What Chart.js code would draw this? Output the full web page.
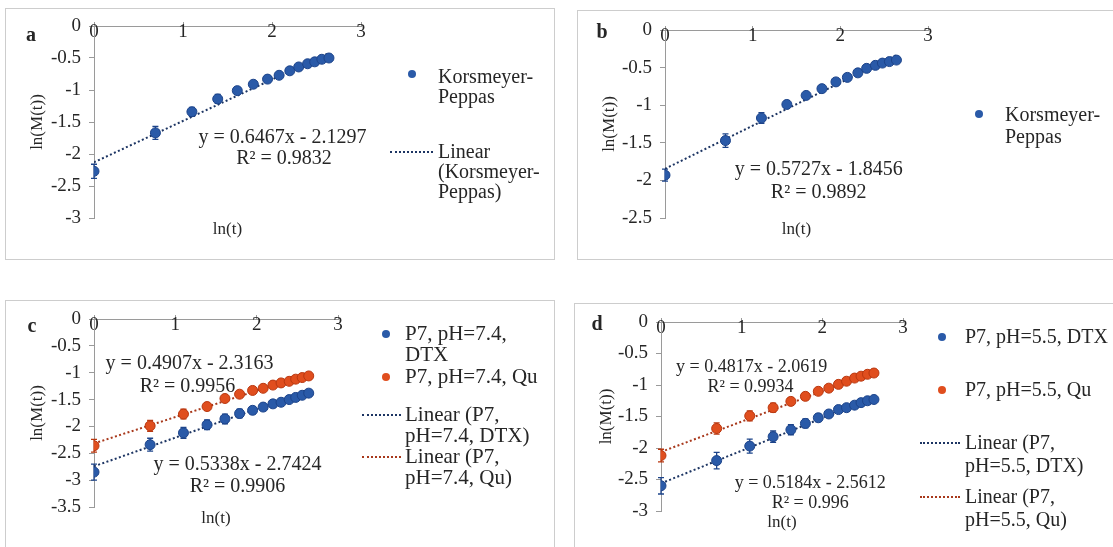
<!DOCTYPE html>
<html>
<head>
<meta charset="utf-8">
<script src="https://cdn.jsdelivr.net/npm/chart.js@4.4.0/dist/chart.umd.min.js"></script>
<style>
body{margin:0;width:1113px;height:547px;overflow:hidden;background:#fff;position:relative;
  font-family:"Liberation Serif","Times New Roman",serif;color:#262626}
.panel{position:absolute;border:1px solid #cdcdcd;box-sizing:border-box;overflow:hidden}
.panel canvas{position:absolute;left:0;top:0}
.lg{position:absolute;white-space:nowrap}
.dot{position:absolute;width:8px;height:8px;border-radius:50%}
.dash{position:absolute;height:0;border-top:2px dotted}
</style>
</head>
<body>
<div class="panel" style="left:5px;top:8px;width:550px;height:252px"><canvas id="ca" width="548" height="250"></canvas></div>
<div class="panel" style="left:577px;top:10px;width:545px;height:250px"><canvas id="cb" width="543" height="248"></canvas></div>
<div class="panel" style="left:5px;top:300px;width:550px;height:260px"><canvas id="cc" width="548" height="258"></canvas></div>
<div class="panel" style="left:574px;top:303px;width:545px;height:260px"><canvas id="cd" width="543" height="258"></canvas></div>
<div id="legends"></div>
<script>
// ln(t) for the sampling times
var lnT = [0, 0.69, 1.10, 1.39, 1.61, 1.79, 1.95, 2.08, 2.20, 2.30, 2.40, 2.48, 2.56, 2.64];

// panel a
var aKP    = [-2.27, -1.67, -1.34, -1.14, -1.01, -0.91, -0.83, -0.77, -0.70, -0.64, -0.59, -0.56, -0.52, -0.50];
var aKPerr = [0.11, 0.10, 0.07, 0.07, 0.05, 0.04, 0.04, 0.03, 0.03, 0.03, 0.02, 0.02, 0.02, 0.02];
var aFit   = [0.6467, -2.1297, '0.9832'];

// panel b
var bKP    = [-1.93, -1.47, -1.17, -0.99, -0.87, -0.78, -0.69, -0.63, -0.57, -0.51, -0.47, -0.44, -0.42, -0.40];
var bKPerr = [0.08, 0.09, 0.07, 0.05, 0.04, 0.03, 0.03, 0.03, 0.02, 0.02, 0.02, 0.02, 0.02, 0.02];
var bFit   = [0.5727, -1.8456, '0.9892'];

// panel c (pH 7.4)
var cDTX    = [-2.85, -2.34, -2.12, -1.97, -1.86, -1.76, -1.70, -1.64, -1.58, -1.55, -1.50, -1.46, -1.42, -1.38];
var cDTXerr = [0.15, 0.12, 0.10, 0.09, 0.09, 0.08, 0.07, 0.05, 0.04, 0.04, 0.04, 0.03, 0.03, 0.03];
var cQu     = [-2.36, -1.99, -1.77, -1.63, -1.48, -1.40, -1.33, -1.29, -1.23, -1.19, -1.16, -1.12, -1.09, -1.06];
var cQuerr  = [0.12, 0.10, 0.09, 0.07, 0.06, 0.05, 0.05, 0.04, 0.04, 0.03, 0.03, 0.03, 0.03, 0.03];
var cDTXFit = [0.5338, -2.7424, '0.9906'];
var cQuFit  = [0.4907, -2.3163, '0.9956'];

// panel d (pH 5.5)
var dDTX    = [-2.60, -2.20, -1.97, -1.82, -1.71, -1.61, -1.52, -1.46, -1.39, -1.36, -1.32, -1.28, -1.25, -1.23];
var dDTXerr = [0.13, 0.13, 0.11, 0.09, 0.08, 0.07, 0.06, 0.05, 0.04, 0.04, 0.04, 0.03, 0.03, 0.03];
var dQu     = [-2.12, -1.69, -1.49, -1.36, -1.26, -1.18, -1.10, -1.05, -0.99, -0.94, -0.89, -0.86, -0.83, -0.81];
var dQuerr  = [0.10, 0.09, 0.08, 0.07, 0.06, 0.05, 0.04, 0.04, 0.03, 0.03, 0.03, 0.03, 0.03, 0.03];
var dDTXFit = [0.5184, -2.5612, '0.996'];
var dQuFit  = [0.4817, -2.0619, '0.9934'];

var xTicks = [0, 1, 2, 3];

var FONT = '"Liberation Serif", "Times New Roman", serif';
var TEXT = '#262626';
var AXIS = '#9a9a9a';
var BLUE = '#2a5aa8', BLUE_EDGE = '#1d448a', BLUE_TREND = '#1d3563';
var ORANGE = '#e04e1e', ORANGE_EDGE = '#b9370f', ORANGE_TREND = '#a8381b';

function pts(ys) {
    return lnT.map(function(x, i){ return {x: x, y: ys[i]}; });
}

function pointSet(label, ys, err, fill, edge) {
    return {
        label: label, data: pts(ys), errors: err, errorColor: edge,
        backgroundColor: fill, borderColor: edge, borderWidth: 1,
        pointRadius: 5, pointHoverRadius: 5, showLine: false
    };
}

function trendSet(label, fit, color) {
    var last = lnT[lnT.length - 1];
    return {
        label: label,
        data: [{x: 0, y: fit[1]}, {x: last, y: fit[0] * last + fit[1]}],
        borderColor: color, borderWidth: 2, borderDash: [2, 2.4],
        pointRadius: 0, showLine: true, fill: false
    };
}

function eqText(fit) {
    return 'y = ' + fit[0] + 'x - ' + Math.abs(fit[1]);
}

// extra drawing: error bars, trend equations, x title and panel letter
function panelPlugin(spec) {
    return {
        id: 'panelDeco',
        beforeDatasetsDraw: function(chart) {
            var ctx = chart.ctx, ys = chart.scales.y;
            ctx.save();
            chart.data.datasets.forEach(function(ds, i) {
                if (!ds.errors) return;
                var meta = chart.getDatasetMeta(i);
                ctx.strokeStyle = ds.errorColor;
                ctx.lineWidth = 1.3;
                meta.data.forEach(function(el, j) {
                    var v = ds.data[j].y, e = ds.errors[j];
                    var y1 = ys.getPixelForValue(v - e), y2 = ys.getPixelForValue(v + e);
                    ctx.beginPath();
                    ctx.moveTo(el.x, y1); ctx.lineTo(el.x, y2);
                    ctx.moveTo(el.x - 3, y1); ctx.lineTo(el.x + 3, y1);
                    ctx.moveTo(el.x - 3, y2); ctx.lineTo(el.x + 3, y2);
                    ctx.stroke();
                });
            });
            ctx.restore();
        },
        afterDraw: function(chart) {
            var ctx = chart.ctx, xs = chart.scales.x, ys = chart.scales.y, area = chart.chartArea;
            ctx.save();
            ctx.fillStyle = TEXT;
            ctx.textAlign = 'center';
            ctx.textBaseline = 'middle';
            ctx.font = spec.eqSize + 'px ' + FONT;
            spec.notes.forEach(function(n) {
                ctx.fillText(n.text, xs.getPixelForValue(n.x), ys.getPixelForValue(n.y));
            });
            ctx.font = '17px ' + FONT;
            ctx.fillText('ln(t)', (area.left + area.right) / 2, area.bottom + 12);
            ctx.font = 'bold 20px ' + FONT;
            ctx.fillText(spec.letter, spec.letterPos[0], spec.letterPos[1]);
            ctx.restore();
        }
    };
}

function makePanel(spec) {
    var tickFont = {family: FONT, size: 19};
    new Chart(document.getElementById(spec.canvas), {
        type: 'scatter',
        data: {datasets: spec.datasets},
        options: {
            responsive: false,
            animation: false,
            events: [],
            devicePixelRatio: 1,
            layout: {autoPadding: false, padding: spec.padding},
            plugins: {legend: {display: false}, tooltip: {enabled: false}},
            scales: {
                x: {
                    type: 'linear', min: 0, max: 3, position: {y: 0},
                    afterBuildTicks: function(s){ s.ticks = xTicks.map(function(v){ return {value: v}; }); },
                    ticks: {padding: 0, maxRotation: 0, autoSkip: false, font: tickFont, color: TEXT,
                            callback: function(v){ return String(v); }},
                    grid: {drawOnChartArea: false, tickLength: -5, color: AXIS},
                    border: {color: AXIS},
                    afterFit: function(s){ s.height = 0; s.paddingLeft = 0; s.paddingRight = 0; }
                },
                y: {
                    type: 'linear', min: spec.yMin, max: 0, position: 'left',
                    ticks: {stepSize: 0.5, padding: 8, font: tickFont, color: TEXT,
                            callback: function(v){ return String(Math.round(v * 10) / 10); }},
                    grid: {drawOnChartArea: false, tickLength: 5, color: AXIS},
                    border: {color: AXIS},
                    title: {display: true, text: 'ln(M(t))', color: TEXT,
                            font: {family: FONT, size: 17}, padding: {top: 21, bottom: 0}},
                    afterFit: function(s){ s.width = spec.plotLeft; s.paddingTop = 0; s.paddingBottom = 0; }
                }
            }
        },
        plugins: [panelPlugin(spec)]
    });
}

makePanel({
    canvas: 'ca', yMin: -3, plotLeft: 88, padding: {left: 0, top: 17, right: 193, bottom: 41},
    letter: 'a', letterPos: [25, 27], eqSize: 20,
    datasets: [
        pointSet('Korsmeyer-Peppas', aKP, aKPerr, BLUE, BLUE_EDGE),
        trendSet('Linear (Korsmeyer-Peppas)', aFit, BLUE_TREND)
    ],
    notes: [
        {text: eqText(aFit), x: 2.118, y: -1.75},
        {text: 'R\u00b2 = ' + aFit[2], x: 2.135, y: -2.08}
    ]
});

makePanel({
    canvas: 'cb', yMin: -2.5, plotLeft: 87, padding: {left: 0, top: 19, right: 193, bottom: 41},
    letter: 'b', letterPos: [24, 22], eqSize: 20,
    datasets: [
        pointSet('Korsmeyer-Peppas', bKP, bKPerr, BLUE, BLUE_EDGE),
        trendSet('Linear (Korsmeyer-Peppas)', bFit, BLUE_TREND)
    ],
    notes: [
        {text: eqText(bFit), x: 1.753, y: -1.852},
        {text: 'R\u00b2 = ' + bFit[2], x: 1.753, y: -2.163}
    ]
});

makePanel({
    canvas: 'cc', yMin: -3.5, plotLeft: 88, padding: {left: 0, top: 18, right: 216, bottom: 52},
    letter: 'c', letterPos: [26, 26], eqSize: 20,
    datasets: [
        pointSet('P7, pH=7.4, DTX', cDTX, cDTXerr, BLUE, BLUE_EDGE),
        pointSet('P7, pH=7.4, Qu', cQu, cQuerr, ORANGE, ORANGE_EDGE),
        trendSet('Linear (P7, pH=7.4, DTX)', cDTXFit, BLUE_TREND),
        trendSet('Linear (P7, pH=7.4, Qu)', cQuFit, ORANGE_TREND)
    ],
    notes: [
        {text: eqText(cQuFit), x: 1.175, y: -0.825},
        {text: 'R\u00b2 = ' + cQuFit[2], x: 1.15, y: -1.26},
        {text: eqText(cDTXFit), x: 1.765, y: -2.72},
        {text: 'R\u00b2 = ' + cDTXFit[2], x: 1.765, y: -3.12}
    ]
});

makePanel({
    canvas: 'cd', yMin: -3, plotLeft: 86, padding: {left: 0, top: 18, right: 215, bottom: 51},
    letter: 'd', letterPos: [22, 21], eqSize: 18,
    datasets: [
        pointSet('P7, pH=5.5, DTX', dDTX, dDTXerr, BLUE, BLUE_EDGE),
        pointSet('P7, pH=5.5, Qu', dQu, dQuerr, ORANGE, ORANGE_EDGE),
        trendSet('Linear (P7, pH=5.5, DTX)', dDTXFit, BLUE_TREND),
        trendSet('Linear (P7, pH=5.5, Qu)', dQuFit, ORANGE_TREND)
    ],
    notes: [
        {text: eqText(dQuFit), x: 1.124, y: -0.718},
        {text: 'R\u00b2 = ' + dQuFit[2], x: 1.11, y: -1.035},
        {text: eqText(dDTXFit), x: 1.85, y: -2.555},
        {text: 'R\u00b2 = ' + dDTXFit[2], x: 1.85, y: -2.87}
    ]
});

// html legends, wrapped like the original Excel legends
var legends = [
    {size: 20, lh: 20, textX: 438, items: [
        {kind: 'dot', color: BLUE, mx: 412, my: 74, top: 66, lines: ['Korsmeyer-', 'Peppas']},
        {kind: 'line', color: BLUE_TREND, mx: 390, mw: 43, my: 152, top: 141, lines: ['Linear', '(Korsmeyer-', 'Peppas)']}
    ]},
    {size: 20, lh: 22, textX: 1005, items: [
        {kind: 'dot', color: BLUE, mx: 979, my: 114, top: 103, lines: ['Korsmeyer-', 'Peppas']}
    ]},
    {size: 21, lh: 20.5, textX: 405, items: [
        {kind: 'dot', color: BLUE, mx: 386, my: 334, top: 323, lines: ['P7, pH=7.4,', 'DTX']},
        {kind: 'dot', color: ORANGE, mx: 386, my: 377, top: 366, lines: ['P7, pH=7.4, Qu']},
        {kind: 'line', color: BLUE_TREND, mx: 362, mw: 39, my: 415, top: 404, lines: ['Linear (P7,', 'pH=7.4, DTX)']},
        {kind: 'line', color: ORANGE_TREND, mx: 362, mw: 39, my: 457, top: 446, lines: ['Linear (P7,', 'pH=7.4, Qu)']}
    ]},
    {size: 20, lh: 23, textX: 965, items: [
        {kind: 'dot', color: BLUE, mx: 942, my: 337, top: 325, lines: ['P7, pH=5.5, DTX']},
        {kind: 'dot', color: ORANGE, mx: 942, my: 390, top: 378, lines: ['P7, pH=5.5, Qu']},
        {kind: 'line', color: BLUE_TREND, mx: 920, mw: 40, my: 443, top: 431, lines: ['Linear (P7,', 'pH=5.5, DTX)']},
        {kind: 'line', color: ORANGE_TREND, mx: 920, mw: 40, my: 497, top: 485, lines: ['Linear (P7,', 'pH=5.5, Qu)']}
    ]}
];

var host = document.getElementById('legends');
legends.forEach(function(lg) {
    lg.items.forEach(function(it) {
        var m = document.createElement('div');
        if (it.kind === 'dot') {
            m.className = 'dot';
            m.style.left = (it.mx - 4) + 'px';
            m.style.top = (it.my - 4) + 'px';
            m.style.background = it.color;
        } else {
            m.className = 'dash';
            m.style.left = it.mx + 'px';
            m.style.top = (it.my - 1) + 'px';
            m.style.width = it.mw + 'px';
            m.style.borderTopColor = it.color;
        }
        host.appendChild(m);
        var t = document.createElement('div');
        t.className = 'lg';
        t.style.left = lg.textX + 'px';
        t.style.top = it.top + 'px';
        t.style.fontSize = lg.size + 'px';
        t.style.lineHeight = lg.lh + 'px';
        t.innerHTML = it.lines.join('<br>');
        host.appendChild(t);
    });
});
</script>
</body>
</html>
